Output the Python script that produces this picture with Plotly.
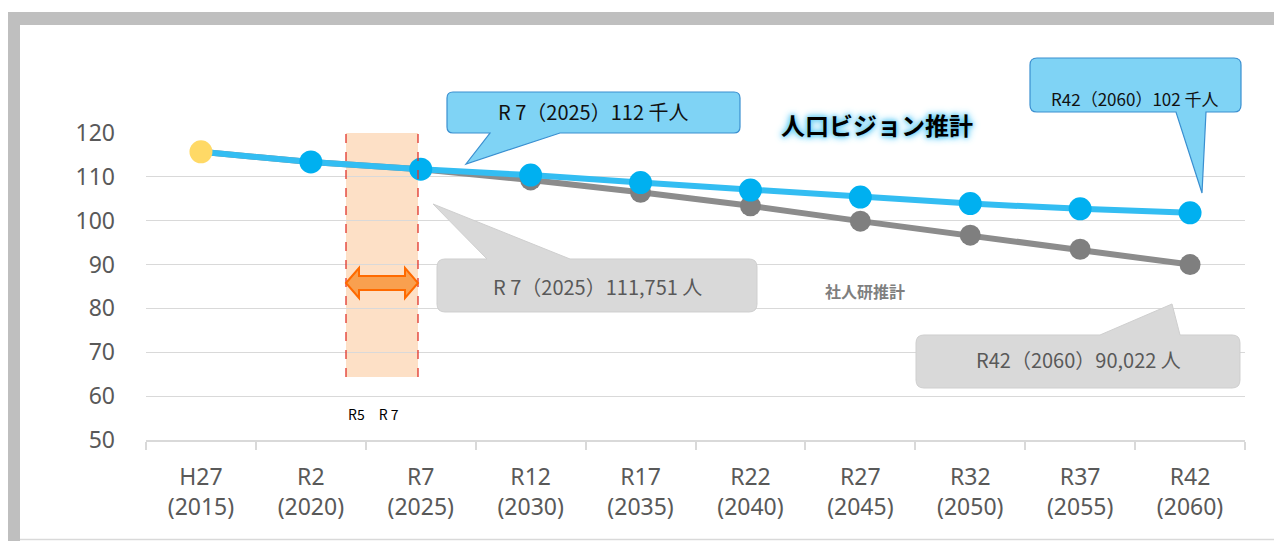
import plotly.graph_objects as go

# --- data ---
categories = ["H27<br>(2015)", "R2<br>(2020)", "R7<br>(2025)", "R12<br>(2030)", "R17<br>(2035)",
              "R22<br>(2040)", "R27<br>(2045)", "R32<br>(2050)", "R37<br>(2055)", "R42<br>(2060)"]
vision = [115.7, 113.4, 111.75, 110.4, 108.7, 107.0, 105.4, 103.9, 102.7, 101.8]   # 人口ビジョン推計 (千人)
ipss = [115.7, 113.4, 111.75, 109.3, 106.5, 103.4, 99.9, 96.7, 93.5, 90.0]          # 社人研推計 (千人)
y_ticks = [50, 60, 70, 80, 90, 100, 110, 120]

xs = list(range(len(categories)))

# plot area in screen pixels (page body adds an 8px margin around the figure)
OFF = 8
W, H = 1282 - OFF, 541 - OFF
L, R, T, B = 146, 1245, 133, 440


def px(x):
    return (x - L) / (R - L)


def py(y):
    return (B - y) / (B - T)


def path_from(points):
    s = ""
    for cmd, pts in points:
        s += cmd + " ".join(f"{px(a):.5f},{py(b):.5f}" for a, b in pts) + " "
    return s + "Z"


def callout(x0, y0, x1, y1, r, side, ta, tb, tip):
    # rounded box with a pointed tail on top or bottom edge (pixel coords)
    p = [("M", [(x0 + r, y0)])]
    if side == "top":
        p += [("L", [(ta, y0)]), ("L", [tip]), ("L", [(tb, y0)])]
    p += [("L", [(x1 - r, y0)]), ("Q", [(x1, y0), (x1, y0 + r)]),
          ("L", [(x1, y1 - r)]), ("Q", [(x1, y1), (x1 - r, y1)])]
    if side == "bottom":
        p += [("L", [(tb, y1)]), ("L", [tip]), ("L", [(ta, y1)])]
    p += [("L", [(x0 + r, y1)]), ("Q", [(x0, y1), (x0, y1 - r)]),
          ("L", [(x0, y0 + r)]), ("Q", [(x0, y0), (x0 + r, y0)])]
    return path_from(p)


fig = go.Figure()

fig.add_trace(go.Scatter(x=xs, y=ipss, mode="lines+markers", name="社人研推計",
                         line=dict(color="#8C8C8C", width=6),
                         marker=dict(color="#7F7F7F", size=21)))
fig.add_trace(go.Scatter(x=xs, y=vision, mode="lines+markers", name="人口ビジョン推計",
                         line=dict(color="#33BDF2", width=6),
                         marker=dict(color=["#FFD966"] + ["#00B0F0"] * (len(xs) - 1), size=23)))

shapes = []
# outer frame
shapes.append(dict(type="rect", xref="paper", yref="paper", x0=px(7), x1=px(1290), y0=py(12), y1=py(25),
                   fillcolor="#BFBFBF", line_width=0, layer="below"))
shapes.append(dict(type="rect", xref="paper", yref="paper", x0=px(7), x1=px(20), y0=py(25), y1=py(550),
                   fillcolor="#BFBFBF", line_width=0, layer="below"))
shapes.append(dict(type="line", xref="paper", yref="paper", x0=px(1278.5), x1=px(1278.5), y0=py(25), y1=py(550),
                   line=dict(color="#D9D9D9", width=1.5)))
shapes.append(dict(type="line", xref="paper", yref="paper", x0=px(20), x1=px(1279), y0=py(539.5), y1=py(539.5),
                   line=dict(color="#D9D9D9", width=1.5)))

# R5-R7 period band
shapes.append(dict(type="rect", xref="paper", yref="paper", x0=px(346), x1=px(418), y0=py(377), y1=py(133),
                   fillcolor="rgba(252,208,168,0.65)", line_width=0, layer="between"))
for xx in (346, 418):
    shapes.append(dict(type="line", xref="paper", yref="paper", x0=px(xx), x1=px(xx), y0=py(377), y1=py(133),
                       line=dict(color="#E0352B", width=1.3, dash="dash"), layer="above"))
# white patch under the period label
shapes.append(dict(type="rect", xref="paper", yref="paper", x0=px(293), x1=px(473), y0=py(430), y1=py(386),
                   fillcolor="white", line_width=0, layer="between"))
# double arrow
arrow = [("M", [(346, 283)]), ("L", [(359, 268)]), ("L", [(359, 276)]), ("L", [(405, 276)]),
         ("L", [(405, 268)]), ("L", [(418, 283)]), ("L", [(405, 298)]), ("L", [(405, 290)]),
         ("L", [(359, 290)]), ("L", [(359, 298)])]
shapes.append(dict(type="path", xref="paper", yref="paper", path=path_from(arrow),
                   fillcolor="#F9A04F", line=dict(color="#FF6A00", width=2), layer="above"))

# callouts
shapes.append(dict(type="path", xref="paper", yref="paper",
                   path=callout(447, 92, 740, 133, 6, "bottom", 490, 560, (466, 164)),
                   fillcolor="#7FD3F5", line=dict(color="#3A8FD0", width=1.2), layer="above"))
shapes.append(dict(type="path", xref="paper", yref="paper",
                   path=callout(1030, 58, 1241, 112, 7, "bottom", 1176, 1206, (1202, 193)),
                   fillcolor="#7FD3F5", line=dict(color="#3A8FD0", width=1.2), layer="above"))
shapes.append(dict(type="path", xref="paper", yref="paper",
                   path=callout(437, 259, 757, 312, 8, "top", 487, 570, (433, 204)),
                   fillcolor="#D9D9D9", line=dict(color="#CFCFCF", width=1), layer="above"))
shapes.append(dict(type="path", xref="paper", yref="paper",
                   path=callout(916, 335, 1240, 388, 8, "top", 1100, 1180, (1172, 304)),
                   fillcolor="#D9D9D9", line=dict(color="#CFCFCF", width=1), layer="above"))

jp = "Noto Sans CJK JP"
annotations = [
    dict(x=px(593), y=py(112), text="R 7（2025）112 千人",
         font=dict(family=jp, size=20, color="#111111")),
    dict(x=px(1135), y=py(99), text="R42（2060）102 千人",
         font=dict(family=jp, size=17, color="#111111")),
    dict(x=px(877), y=py(124), text="<b>人口ビジョン推計</b>",
         font=dict(family=jp, size=24, color="#000000",
                   shadow="0 0 4px #5CCBF5, 0 0 7px #5CCBF5, 0 0 10px #8ADAF8")),
    dict(x=px(597), y=py(286), text="R 7（2025）111,751 人",
         font=dict(family=jp, size=20, color="#595959")),
    dict(x=px(865), y=py(291), text="<b>社人研推計</b>",
         font=dict(family=jp, size=16, color="#7F7F7F")),
    dict(x=px(1078), y=py(359), text="R42（2060）90,022 人",
         font=dict(family=jp, size=20, color="#595959")),
    dict(x=px(373), y=py(414), text="R5　R 7",
         font=dict(family=jp, size=14, color="#000000")),
]
for a in annotations:
    a.update(xref="paper", yref="paper", showarrow=False, xanchor="center", yanchor="middle")

fig.update_layout(
    width=W, height=H,
    margin=dict(l=L - OFF, r=W - (R - OFF), t=T - OFF, b=H - (B - OFF)),
    paper_bgcolor="white", plot_bgcolor="white",
    showlegend=False,
    shapes=shapes,
    annotations=annotations,
    font=dict(family="Noto Sans", color="#595959"),
    xaxis=dict(range=[-0.5, 9.5], tickmode="array", tickvals=xs, ticktext=categories,
               showgrid=False, zeroline=False, showline=True, linecolor="#D9D9D9", linewidth=1.5,
               ticks="", tickfont=dict(size=23, color="#595959"), ticklabelstandoff=16,
               minor=dict(tickvals=[i - 0.5 for i in range(len(xs) + 1)], ticks="outside",
                          ticklen=8, tickcolor="#D9D9D9", tickwidth=1.5, showgrid=False)),
    yaxis=dict(range=[50, 120], tickmode="array", tickvals=y_ticks,
               showgrid=True, gridcolor="#D9D9D9", gridwidth=1.2, zeroline=False,
               tickfont=dict(size=23, color="#595959"), ticklabelstandoff=30),
)

fig.write_html("out.html")
